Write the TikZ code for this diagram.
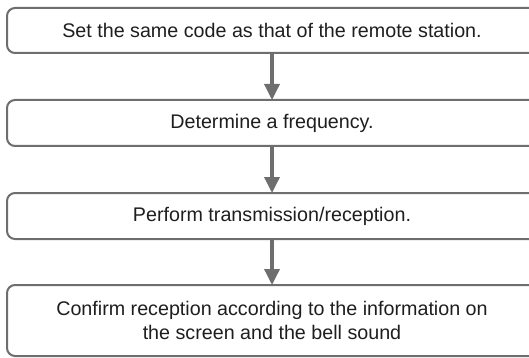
\documentclass[tikz,border=0pt]{standalone}
\usepackage{fontspec}
\setmainfont{Liberation Sans}
\usetikzlibrary{arrows.meta}
\definecolor{boxgray}{HTML}{6E6E6E}
\definecolor{txt}{HTML}{1E1E1E}
\begin{document}
\begin{tikzpicture}[x=1pt,y=1pt,
  stepbox/.style={draw=boxgray, line width=2pt, rounded corners=8pt, minimum width=530pt,
    inner sep=0pt, align=center, text=txt, font=\fontsize{19.7}{24}\selectfont},
  flowarrow/.style={draw=boxgray, line width=3.5pt, -{Triangle[length=16pt,width=15pt]}, shorten >=-1pt}]
\useasboundingbox (0,0) rectangle (529,-358);
\node[stepbox, minimum height=45pt] (b1) at (272,-30.5) {Set the same code as that of the remote station.};
\node[stepbox, minimum height=46pt] (b2) at (272,-123) {Determine a frequency.};
\node[stepbox, minimum height=46pt] (b3) at (272,-216) {Perform transmission/reception.};
\node[stepbox, minimum height=71pt] (b4) at (272,-320.5) {Confirm reception according to the information on\\the screen and the bell sound};
\draw[flowarrow] (b1.south) -- (b2.north);
\draw[flowarrow] (b2.south) -- (b3.north);
\draw[flowarrow] (b3.south) -- (b4.north);
\end{tikzpicture}
\end{document}
